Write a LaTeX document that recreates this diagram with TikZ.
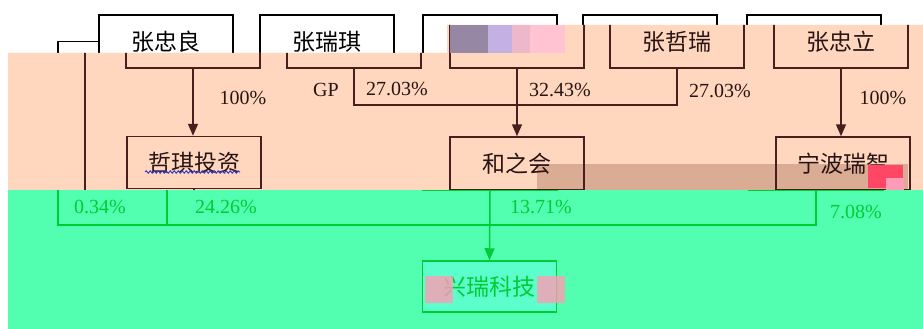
\documentclass[tikz,border=0pt]{standalone}
\usepackage{fontspec}
\setmainfont{Liberation Serif}
\newfontfamily\cjk{Noto Sans CJK SC}
\usetikzlibrary{arrows.meta,decorations.pathmorphing}
\definecolor{peach}{RGB}{255,214,190}
\definecolor{tanband}{RGB}{218,172,148}
\definecolor{mint}{RGB}{82,255,176}
\definecolor{mintbox}{RGB}{92,255,204}
\definecolor{brownline}{RGB}{74,30,30}
\definecolor{browntext}{RGB}{40,20,20}
\definecolor{greenline}{RGB}{0,204,51}
\definecolor{glitchpink}{RGB}{255,155,180}
\definecolor{glitchred}{RGB}{255,70,100}
\definecolor{glitchlav}{RGB}{196,176,226}
\definecolor{glitchgray}{RGB}{150,135,165}
\definecolor{glitchrose}{RGB}{238,184,204}
\definecolor{squiggle}{RGB}{60,60,190}
\tikzset{
  box/.style={draw, line width=1.5pt, minimum width=134pt, minimum height=53pt,
    inner sep=0pt, font=\cjk\fontsize{23}{23}\selectfont},
  pct/.style={font=\fontsize{20}{20}\selectfont, inner sep=0pt},
  conn/.style={line width=1.5pt},
  arr/.style={conn, -{Triangle[length=12pt,width=10pt]}},
}
% a text is printed only in the band copy (1 white, 2 peach, 3 green) where it shows
\def\curband{0}
\newcommand\lbl[2]{\ifnum#1=\curband\relax#2\fi}
\newcommand\drawdiagram[4]{%
  \def\curband{#4}%
  \begin{scope}[xshift=#1pt, color=#2, text=#3]
    \node[box] (A) at (166,41.5) {\lbl{1}{张忠良}};
    \node[box] (B) at (327,41.5) {\lbl{1}{张瑞琪}};
    \node[box] (C) at (490,41.5) {};
    \node[box] (D) at (650,41.5) {\lbl{2}{张哲瑞}};
    \node[box] (E) at (814,41.5) {\lbl{2}{张忠立}};
    \node[box, minimum height=52pt] (F) at (167,162.5) {\lbl{2}{哲琪投资}};
    \node[box] (G) at (490,163.5) {\lbl{2}{和之会}};
    \node[box] (H) at (816,163.5) {\lbl{2}{宁波瑞智}};
    \node[box, fill=mintbox, minimum height=51pt] (X) at (489.5,286.5) {\lbl{3}{兴瑞科技}};
    \draw[arr] (A.south) -- (A.south |- F.north);
    \draw[arr] (C.south) -- (G.north);
    \draw[arr] (E.south) -- (E.south |- H.north);
    \draw[conn] (B.south) -- ++(0,36) -| (D.south);
    \coordinate (bus) at (58,225);
    \draw[conn] (A.west) -| (bus) -- (H.south |- bus) -- (H.south);
    \draw[conn] (F.south) -- (F.south |- bus);
    \draw[arr] (G.south) -- (X.north);
    \ifnum#4=2\relax
      \node[pct] (gp) at (299,90) {GP};
      \node[pct] (p1) at (370,89) {27.03\%};
      \node[pct] (p2) at (533,90) {32.43\%};
      \node[pct] (p3) at (693,91) {27.03\%};
      \node[pct] (p4) at (216,98) {100\%};
      \node[pct] (p5) at (856,98) {100\%};
    \fi
    \ifnum#4=3\relax
      \node[pct] (q1) at (100,207) {0.34\%};
      \node[pct] (q2) at (226,207) {24.26\%};
      \node[pct] (q3) at (541,207) {13.71\%};
      \node[pct] (q4) at (856,212) {7.08\%};
    \fi
  \end{scope}}
\begin{document}
\begin{tikzpicture}[x=1pt, y=-1pt]
  \useasboundingbox (0,0) rectangle (923,329);
  % white top band
  \fill[white] (0,0) rectangle (923,329);
  \begin{scope}
    \clip (0,0) -- (923,0) -- (923,25) -- (447,25) -- (447,53) -- (0,53) -- cycle;
    \drawdiagram{0}{black}{black}{1}
  \end{scope}
  % peach band (shifted copy)
  \fill[peach] (8,53) -- (447,53) -- (447,25) -- (923,25) -- (923,190) -- (8,190) -- cycle;
  \fill[tanband] (537,164) rectangle (908,190);
  \begin{scope}
    \clip (8,53) -- (447,53) -- (447,25) -- (923,25) -- (923,190) -- (8,190) -- cycle;
    \drawdiagram{27}{brownline}{browntext}{2}
    \draw[squiggle, line width=1pt, decorate,
      decoration={snake, amplitude=1.2pt, segment length=4pt}] (145,172) -- (240,172);
  \end{scope}
  % green band
  \fill[mint] (8,190) rectangle (923,329);
  \begin{scope}
    \clip (8,190) rectangle (923,329);
    \drawdiagram{0}{greenline}{greenline}{3}
  \end{scope}
  % glitch patches
  \fill[glitchgray] (450,25) rectangle (488,53);
  \fill[glitchlav] (488,25) rectangle (512,53);
  \fill[glitchrose] (512,25) rectangle (530,53);
  \fill[glitchpink!60] (530,25) rectangle (565,53);
  \fill[glitchred] (868,165) rectangle (903,188);
  \fill[glitchpink] (886,178) rectangle (904,190);
  \fill[glitchpink, opacity=.8] (425,276) rectangle (453,303);
  \fill[glitchpink, opacity=.8] (537,276) rectangle (565,303);
\end{tikzpicture}
\end{document}
